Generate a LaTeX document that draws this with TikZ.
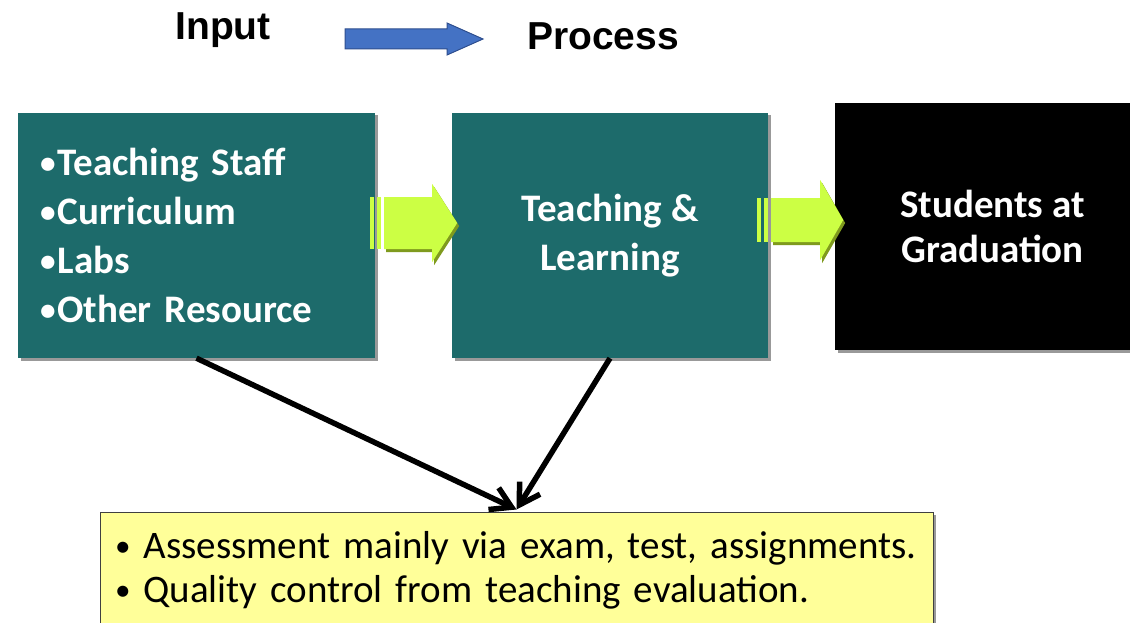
\documentclass[tikz,border=0pt]{standalone}
\usepackage{fontspec}
\setmainfont{Carlito}
\newfontfamily\arialfont{Liberation Sans}
\usetikzlibrary{arrows.meta,calc}
\definecolor{tealbox}{HTML}{1D6B6B}
\definecolor{limefill}{HTML}{CCFF44}
\definecolor{limedark}{HTML}{7F9A1E}
\definecolor{bluefill}{HTML}{4472C4}
\definecolor{blueline}{HTML}{2F4F8F}
\definecolor{yellowfill}{HTML}{FFFF99}
\newcommand\smallbul{\raisebox{0.04em}{\scalebox{0.8}{•}}}
\begin{document}
\begin{tikzpicture}[x=1pt,y=-1pt,
  shadowed/.style={preaction={fill=black!40,transform canvas={shift={(2.5pt,-2.5pt)}}}},
  tealstyle/.style={shadowed,fill=tealbox,text=white,inner sep=0pt,font=\bfseries\fontsize{39}{49}\selectfont},
  heading/.style={font=\arialfont\bfseries\fontsize{39}{44}\selectfont,inner sep=0pt},
  blackarrow/.style={line width=5.5pt,-{Straight Barb[length=20pt,width=24pt,line width=5.5pt]}},
  limebody/.style={fill=limefill},
  limeshade/.style={fill=limedark},
]
\clip (0,0) rectangle (1130,623);
\fill[white] (0,0) rectangle (1130,623);

% headings
\node[heading] (input) at (223,30) {Input};
\node[heading] (process) at (603,36) {Process};
\coordinate (bluestart) at (345,38);
\draw[blueline,fill=bluefill,line width=1pt]
  (bluestart) ++(0,-9) -- ++(102,0) -- ++(0,-6) -- ++(36,16) -- ++(-36,16) -- ++(0,-6) -- ++(-102,0) -- cycle;

% boxes
\node[tealstyle,minimum width=357,minimum height=245,text width=313,align=left] (in) at (196.5,235.5)
  {\smallbul\hspace{2pt}Teaching Staff\\\smallbul\hspace{2pt}Curriculum\\\smallbul\hspace{2pt}Labs\\\smallbul\hspace{2pt}Other Resource};
\node[tealstyle,minimum width=316,minimum height=245,align=center] (proc) at (610,235.5)
  {Teaching \&\\Learning};
\node[shadowed,fill=black,text=white,inner sep=0pt,minimum width=315,minimum height=247,align=center,
  font=\bfseries\fontsize{39}{45}\selectfont] (out) at (992.5,226.5)
  {Students at\\Graduation};
\node[shadowed,draw=black!75,line width=1pt,fill=yellowfill,minimum width=833,minimum height=116,
  inner sep=0pt,text width=803,align=left,font=\fontsize{39}{44}\selectfont] (qa) at (516.5,570)
  {\mbox{\smallbul\hspace{13pt}Assessment mainly via exam, test, assignments.}\\\mbox{\smallbul\hspace{13pt}Quality control from teaching evaluation.}};

% lime block arrows between boxes
\begin{scope}[shift={($(in.east)+(-5,-12.5)$)}]
  \fill[limeshade,shift={(2,3)}] (14,-26) -- (62,-26) -- (62,-39) -- (87,0) -- (62,39) -- (62,26) -- (14,26) -- cycle;
  \fill[limebody] (14,-26) -- (62,-26) -- (62,-39) -- (87,0) -- (62,39) -- (62,26) -- (14,26) -- cycle;
  \fill[limebody] (0,-26) rectangle (4,26);
  \fill[limebody] (7,-26) rectangle (11,26);
\end{scope}
\begin{scope}[shift={($(proc.east)+(-11,-15.5)$)}]
  \fill[limeshade,shift={(2,3)}] (14,-22) -- (63,-22) -- (63,-40) -- (86,0) -- (63,40) -- (63,22) -- (14,22) -- cycle;
  \fill[limebody] (14,-22) -- (63,-22) -- (63,-40) -- (86,0) -- (63,40) -- (63,22) -- (14,22) -- cycle;
  \fill[limebody] (0,-22) rectangle (4,22);
  \fill[limebody] (7,-22) rectangle (11,22);
\end{scope}

% assessment arrows
\coordinate (qatip) at ($(qa.north)+(0,-2)$);
\draw[blackarrow] (in.south) -- (qatip);
\draw[blackarrow] (proc.south) -- (qatip);
\end{tikzpicture}
\end{document}
